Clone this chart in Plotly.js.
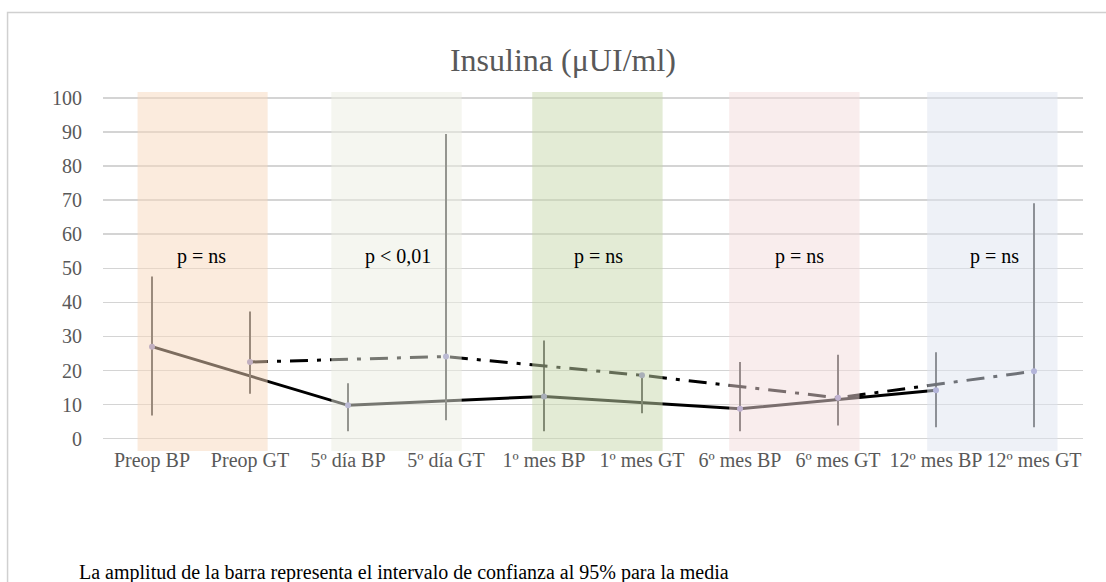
<!DOCTYPE html>
<html>
<head>
<meta charset="utf-8">
<script src="https://cdn.plot.ly/plotly-3.0.1.min.js"></script>
<style>
  html, body { margin: 0; padding: 0; background: #ffffff; }
  #chart { width: 1106px; height: 582px; }
</style>
</head>
<body>
<div id="chart"></div>
<script>
// Time points (BP and GT alternate)
const categories = ['Preop BP', 'Preop GT', '5º día BP', '5º día GT', '1º mes BP',
                    '1º mes GT', '6º mes BP', '6º mes GT', '12º mes BP', '12º mes GT'];
const bpCats = ['Preop BP', '5º día BP', '1º mes BP', '6º mes BP', '12º mes BP'];
const gtCats = ['Preop GT', '5º día GT', '1º mes GT', '6º mes GT', '12º mes GT'];

// Insulin means with 95% CI limits
const bpMean = [27.0, 9.8, 12.4, 8.8, 14.2];
const bpLow  = [6.8, 2.2, 2.2, 2.2, 3.4];
const bpHigh = [47.6, 16.3, 28.8, 22.5, 25.4];

const gtMean = [22.5, 24.1, 18.6, 12.0, 19.8];
const gtLow  = [13.2, 5.4, 7.5, 3.9, 3.4];
const gtHigh = [37.3, 89.4, 19.1, 24.6, 69.1];

// p-value labels for each time point
const pLabels = ['p = ns', 'p < 0,01', 'p = ns', 'p = ns', 'p = ns'];
const pPos = [0.5, 2.51, 4.56, 6.61, 8.6];

// Translucent bands over each BP/GT pair
const bandX0 = [-0.147, 1.83, 3.88, 5.89, 7.91];
const bandX1 = [1.18, 3.16, 5.21, 7.22, 9.24];
const bandColors = ['rgba(247,215,187,0.5)', 'rgba(235,237,225,0.5)', 'rgba(199,215,171,0.5)',
                    'rgba(243,219,219,0.5)', 'rgba(221,227,239,0.5)'];

const FONT = '"Liberation Serif", "Times New Roman", serif';

function errPlus(mean, high) { return mean.map((m, i) => high[i] - m); }
function errMinus(mean, low) { return mean.map((m, i) => m - low[i]); }

const bpTrace = {
  type: 'scatter', mode: 'lines+markers',
  x: bpCats, y: bpMean,
  line: { color: '#000000', width: 3 },
  marker: { color: '#8a86c4', size: 6 },
  error_y: { type: 'data', symmetric: false,
             array: errPlus(bpMean, bpHigh), arrayminus: errMinus(bpMean, bpLow),
             color: '#3c3c3c', thickness: 2, width: 0 },
  showlegend: false, hoverinfo: 'skip'
};

const gtTrace = {
  type: 'scatter', mode: 'lines+markers',
  x: gtCats, y: gtMean,
  line: { color: '#000000', width: 3, dash: '18px,9px,4px,9px' },
  marker: { color: '#8a86c4', size: 6 },
  error_y: { type: 'data', symmetric: false,
             array: errPlus(gtMean, gtHigh), arrayminus: errMinus(gtMean, gtLow),
             color: '#3c3c3c', thickness: 2, width: 0 },
  showlegend: false, hoverinfo: 'skip'
};

const shapes = bandX0.map((x0, i) => ({
  type: 'rect', xref: 'x', yref: 'y', layer: 'above',
  x0: x0, x1: bandX1[i], y0: -3.6, y1: 101.7,
  fillcolor: bandColors[i], line: { width: 0 }
}));

// chart frame
shapes.push({
  type: 'rect', xref: 'paper', yref: 'paper', layer: 'below',
  x0: -0.0974, x1: 1.2, y0: -1, y1: 1.2214,
  fillcolor: 'rgba(0,0,0,0)', line: { color: '#d0d0d0', width: 1.5 }
});

const annotations = pLabels.map((t, i) => ({
  text: t, x: pPos[i], y: 53.4, xref: 'x', yref: 'y',
  xanchor: 'center', yanchor: 'middle', showarrow: false,
  font: { family: FONT, size: 20, color: '#000000' }
}));

annotations.push({
  text: 'La amplitud de la barra representa el intervalo de confianza al 95% para la media',
  xref: 'paper', yref: 'paper', x: -0.0265, y: -0.338,
  xanchor: 'left', yanchor: 'middle', showarrow: false,
  font: { family: FONT, size: 20, color: '#000000' }
});

const layout = {
  width: 1106, height: 582,
  margin: { l: 103, r: 23, t: 92, b: 131 },
  paper_bgcolor: '#ffffff', plot_bgcolor: '#ffffff',
  title: {
    text: 'Insulina (μUI/ml)',
    xref: 'container', yref: 'container', x: 0.509, y: 0.898,
    xanchor: 'center', yanchor: 'middle',
    font: { family: FONT, size: 32, color: '#595959' }
  },
  xaxis: {
    type: 'category', categoryorder: 'array', categoryarray: categories,
    range: [-0.5, 9.5], tickangle: 0, ticklabelstandoff: -5,
    showgrid: false, zeroline: false, showline: false, ticks: '',
    tickfont: { family: FONT, size: 20, color: '#595959' }
  },
  yaxis: {
    range: [-3.6, 101.7],
    tickvals: [0, 10, 20, 30, 40, 50, 60, 70, 80, 90, 100],
    showgrid: true, gridcolor: '#d4d4d4', gridwidth: 1.5,
    zeroline: false, showline: false,
    ticks: 'outside', ticklen: 16, tickcolor: 'rgba(0,0,0,0)',
    tickfont: { family: FONT, size: 20, color: '#595959' }
  },
  shapes: shapes,
  annotations: annotations
};

Plotly.newPlot('chart', [bpTrace, gtTrace], layout, { displayModeBar: false, staticPlot: true });
</script>
</body>
</html>
